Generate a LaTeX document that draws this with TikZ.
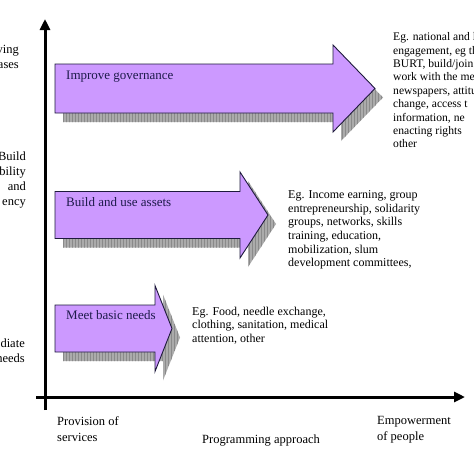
\documentclass[tikz,border=0pt]{standalone}
\usepackage{fontspec}
\setmainfont{Liberation Serif}
\usetikzlibrary{arrows.meta,patterns}
\definecolor{violetfill}{HTML}{CC99FF}
\definecolor{edgecol}{HTML}{1E1A3C}
\definecolor{labcol}{HTML}{1E1B4B}
\definecolor{shadowcol}{HTML}{ABABAB}
\definecolor{shadowline}{HTML}{8A8A8A}
% #1 left, #2 head back, #3 tip, #4 centre y, #5 body half height, #6 head half height
\newcommand\blockarrow[6]{%
  \fill[shadowcol, shift={(8,9)}] (#1,#4-#5) -- (#2,#4-#5) -- (#2,#4-#6) -- (#3,#4) -- (#2,#4+#6) -- (#2,#4+#5) -- (#1,#4+#5) -- cycle;
  \fill[pattern=vertical lines, pattern color=shadowline, shift={(8,9)}] (#1,#4-#5) -- (#2,#4-#5) -- (#2,#4-#6) -- (#3,#4) -- (#2,#4+#6) -- (#2,#4+#5) -- (#1,#4+#5) -- cycle;
  \draw[arrowbox] (#1,#4-#5) -- (#2,#4-#5) -- (#2,#4-#6) -- (#3,#4) -- (#2,#4+#6) -- (#2,#4+#5) -- (#1,#4+#5) -- cycle;
}
\tikzset{
  arrowbox/.style={fill=violetfill, draw=edgecol, line width=0.9pt, line join=miter},
  axis/.style={line width=3pt, -{Triangle[length=11pt,width=10pt]}},
  arrlabel/.style={anchor=west, inner sep=0pt, text=labcol, font=\fontsize{13}{15}\selectfont},
  egtext/.style={anchor=north west, inner sep=0pt, align=left, font=\fontsize{12}{13.6}\selectfont},
  egtop/.style={anchor=north west, inner sep=0pt, align=left, font=\fontsize{11.6}{13.4}\selectfont},
  sidetext/.style={anchor=north east, inner sep=0pt, align=right, font=\fontsize{12.5}{15}\selectfont},
  bottext/.style={anchor=north west, inner sep=0pt, align=left, font=\fontsize{12.5}{15.5}\selectfont},
}
\begin{document}
\begin{tikzpicture}[x=1pt,y=-1pt]
\useasboundingbox (0,0) rectangle (474,474);
\clip (0,0) rectangle (474,474);
\fill[white] (0,0) rectangle (474,474);

% block arrows
\blockarrow{55}{333}{375}{88.5}{24.5}{43.5}
\blockarrow{55}{240}{268}{215}{23.5}{43}
\blockarrow{55}{155}{172}{328.5}{23.5}{43}

% arrow labels
\node[arrlabel] (gov) at (66,77) {Improve governance};
\node[arrlabel] (assets) at (66,202) {Build and use assets};
\node[arrlabel] (basic) at (66,315) {Meet basic needs};

% axes
\coordinate (ybot) at (45,410);
\coordinate (ytop) at (45,19);
\coordinate (xleft) at (36,397);
\coordinate (xright) at (465,397);
\draw[axis] (ybot) -- (ytop);
\draw[axis] (xleft) -- (xright);

% example texts
\node[egtop] (eg1) at (393,32.5) {Eg. national and l\\engagement, eg th\\BURT, build/join\\work with the me\\newspapers, attitu\\change, access t\\information, ne\\enacting rights\\other};
\node[egtext] (eg2) at (288,190.5) {Eg. Income earning, group\\entrepreneurship, solidarity\\groups, networks, skills\\training, education,\\mobilization, slum\\development committees,};
\node[egtext] (eg3) at (192,306.5) {Eg. Food, needle exchange,\\clothing, sanitation, medical\\attention, other};

% left side labels (cropped)
\node[sidetext] (l1) at (19,45.5) {ving\\ases};
\node[sidetext] (l2) at (26,151.5) {Build\\bility\\and\\ency};
\node[sidetext] (l3) at (25,338.5) {diate\\needs};

% bottom labels
\node[bottext] (prov) at (57,416.5) {Provision of\\services};
\node[bottext] (prog) at (202,434.5) {Programming approach};
\node[bottext] (emp) at (377,416.5) {Empowerment\\of people};
\end{tikzpicture}
\end{document}
